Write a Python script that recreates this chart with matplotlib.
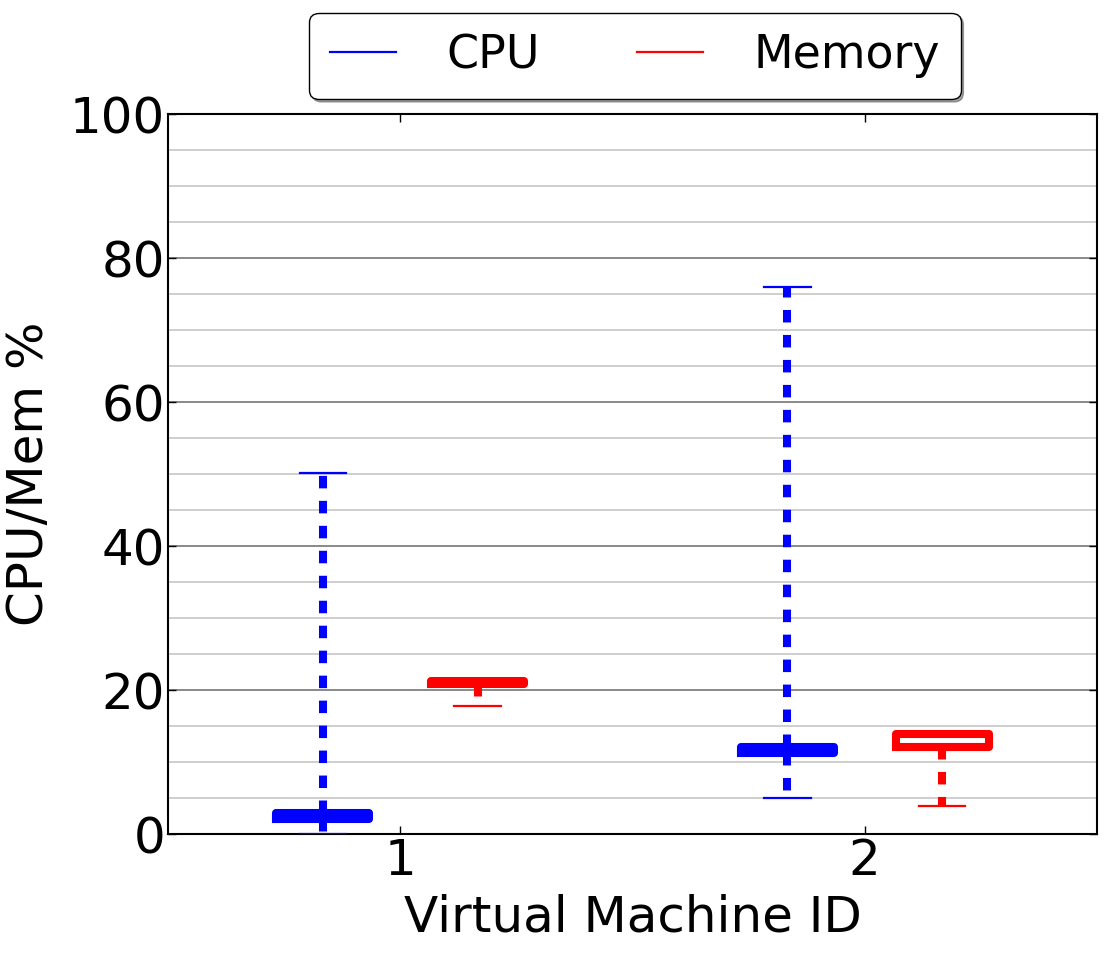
import matplotlib
matplotlib.use("Agg")
import matplotlib.pyplot as plt
from matplotlib.lines import Line2D
from matplotlib.ticker import MultipleLocator

# Data
vm_ids = [1, 2]
series_names = ["CPU", "Memory"]
cpu_whislo = [0.0, 5.0]
cpu_q1 = [2.1, 11.2]
cpu_med = [2.5, 11.6]
cpu_q3 = [2.9, 12.1]
cpu_whishi = [50.2, 76.0]
mem_whislo = [17.8, 3.9]
mem_q1 = [20.9, 12.1]
mem_med = [21.1, 12.1]
mem_q3 = [21.3, 13.9]
mem_whishi = [21.3, 13.9]
y_ticks = [0, 20, 40, 60, 80, 100]

fig = plt.figure(figsize=(11.14, 9.66), dpi=100)
ax = fig.add_axes([168/1114, 1-834/966, (1097-168)/1114, (834-114)/966])

offset = 1/6
width = 0.2
lw_box = 5.8


def stats(lo, q1, med, q3, hi):
    return [dict(whislo=a, q1=b, med=c, q3=d, whishi=e, fliers=[])
            for a, b, c, d, e in zip(lo, q1, med, q3, hi)]


def draw(st, pos, color):
    ax.bxp(st, positions=pos, widths=width, showfliers=False,
           boxprops=dict(color=color, linewidth=lw_box),
           medianprops=dict(color=color, linewidth=lw_box),
           whiskerprops=dict(color=color, linewidth=lw_box,
                             linestyle=(0, (1.55, 1.55))),
           capprops=dict(color=color, linewidth=1.6),
           manage_ticks=False, zorder=3)


draw(stats(cpu_whislo, cpu_q1, cpu_med, cpu_q3, cpu_whishi),
     [v - offset for v in vm_ids], "#0000ff")
draw(stats(mem_whislo, mem_q1, mem_med, mem_q3, mem_whishi),
     [v + offset for v in vm_ids], "#ff0000")

ax.set_xlim(0.5, 2.5)
ax.set_ylim(0, 100)
ax.set_xticks(vm_ids)
ax.set_xticklabels([str(v) for v in vm_ids])
ax.set_yticks(y_ticks)
ax.yaxis.set_minor_locator(MultipleLocator(5))
ax.set_axisbelow(True)
ax.grid(axis="y", which="major", color="#808080", linewidth=1.3)
ax.grid(axis="y", which="minor", color="#cccccc", linewidth=1.3)
ax.tick_params(axis="both", which="major", direction="in", length=6,
               width=1, labelsize=36, pad=2, top=True, right=True)
ax.tick_params(axis="both", which="minor", length=0)
for s in ax.spines.values():
    s.set_linewidth(1.5)

ax.set_xlabel("Virtual Machine ID", fontsize=36, labelpad=6)
ax.set_ylabel("CPU/Mem %", fontsize=36, labelpad=12)

handles = [Line2D([], [], color="#0000ff", linewidth=1.6),
           Line2D([], [], color="#ff0000", linewidth=1.6)]
fig.legend(handles, series_names, loc="center",
           bbox_to_anchor=(635/1114, 1-56/966), ncol=2, fontsize=33,
           fancybox=True, shadow=True, framealpha=1, edgecolor="black",
           handlelength=1.45, handletextpad=1.1, columnspacing=2.1,
           borderpad=0.45)

fig.savefig("out.png", dpi=100)
